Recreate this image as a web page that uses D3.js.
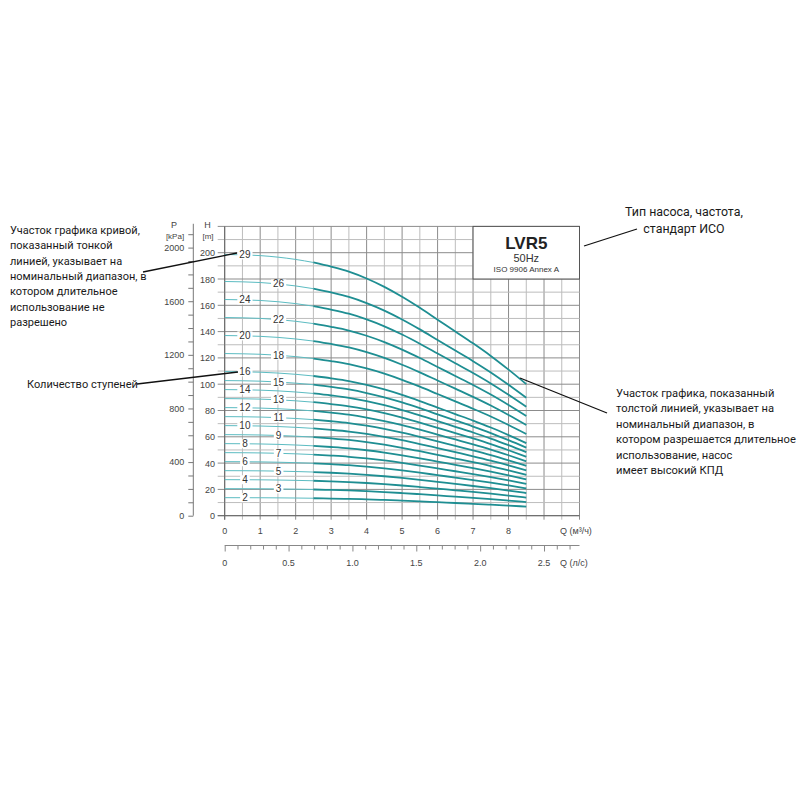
<!DOCTYPE html>
<html><head><meta charset="utf-8">
<script src="https://cdn.jsdelivr.net/npm/d3@7"></script>
<style>body{margin:0;background:#fff} svg{display:block}</style>
</head><body><svg id="c" width="800" height="800"></svg>
<script>
// ---------- data ----------
const flowM3h      = [0, 0.5, 1, 1.5, 2, 2.5, 3, 3.5, 4, 4.5, 5, 5.5, 6, 6.5, 7, 7.5, 8, 8.5];
const headPerStage = [6.85, 6.84, 6.82, 6.78, 6.72, 6.64, 6.53, 6.40, 6.22, 6.00, 5.74, 5.45, 5.14, 4.83, 4.52, 4.19, 3.83, 3.45];
const stages       = [2, 3, 4, 5, 6, 7, 8, 9, 10, 11, 12, 13, 14, 15, 16, 18, 20, 22, 24, 26, 29];
const labelsNearZero = [29, 24, 20, 16, 14, 12, 10, 8, 6, 4, 2];
const ratedStart   = 2.5;   // thin line below this flow, thick above
const qTicksM3h    = [0, 1, 2, 3, 4, 5, 6, 7, 8];
const qTicksLs     = ["0", "0.5", "1.0", "1.5", "2.0", "2.5"];
const hTicks       = [0, 20, 40, 60, 80, 100, 120, 140, 160, 180, 200];
const pTicks       = [0, 400, 800, 1200, 1600, 2000];
const titleLines   = ["LVR5", "50Hz", "ISO 9906 Annex A"];
const noteThin     = ["Участок графика кривой,", "показанный тонкой", "линией, указывает на", "номинальный диапазон, в", "котором длительное", "использование не", "разрешено"];
const noteStages   = ["Количество ступеней"];
const noteType     = ["Тип насоса, частота,", "стандарт ИСО"];
const noteThick    = ["Участок графика, показанный", "толстой линией, указывает на", "номинальный диапазон, в", "котором разрешается длительное", "использование, насос", "имеет высокий КПД"];

// ---------- scales ----------
const svg = d3.select("#c");
const x  = d3.scaleLinear().domain([0, 10]).range([224.7, 579.5]);
const xL = d3.scaleLinear().domain([0, 10 / 3.6]).range([224.7, 579.5]);
const y  = d3.scaleLinear().domain([0, 220]).range([515.7, 226.4]);
const yP = d3.scaleLinear().domain([0, 220 * 9.81]).range([515.7, 226.4]);
const AX = "Liberation Sans, Arial, sans-serif";
const TX = "Roboto, Open Sans, sans-serif";

// ---------- grid ----------
const g = svg.append("g");
g.selectAll(".vg").data(d3.range(0, 10.01, 0.5)).join("line")
  .attr("x1", d => x(d)).attr("x2", d => x(d))
  .attr("y1", y(220)).attr("y2", y(0) + 4)
  .attr("stroke", d => Number.isInteger(d) ? "#8c8c8c" : "#bdbdbd").attr("stroke-width", 1);
g.selectAll(".hg").data(d3.range(0, 220.1, 10)).join("line")
  .attr("x1", x(0) - 7).attr("x2", x(10))
  .attr("y1", d => y(d)).attr("y2", d => y(d))
  .attr("stroke", d => d % 20 === 0 ? "#8c8c8c" : "#bdbdbd").attr("stroke-width", 1);
g.append("line").attr("x1", x(0) - 7).attr("x2", x(10)).attr("y1", y(0)).attr("y2", y(0)).attr("stroke", "#666");
g.append("line").attr("x1", x(0)).attr("x2", x(0)).attr("y1", y(220)).attr("y2", y(0) + 4).attr("stroke", "#666");

// H axis labels
svg.append("g").selectAll("text").data(hTicks).join("text")
  .attr("x", 215).attr("y", d => y(d) + 3.5).attr("text-anchor", "end")
  .attr("font-family", AX).attr("font-size", 9).attr("fill", "#444").text(d => d);
svg.append("text").attr("x", 207.5).attr("y", 228).attr("text-anchor", "middle")
  .attr("font-family", AX).attr("font-size", 9).attr("fill", "#444").text("H");
svg.append("text").attr("x", 208).attr("y", 239).attr("text-anchor", "middle")
  .attr("font-family", AX).attr("font-size", 8).attr("fill", "#444").text("[m]");

// P axis
const pAxis = d3.axisLeft(yP).tickValues(d3.range(0, 2101, 100)).tickSize(5)
  .tickFormat(d => pTicks.includes(d) ? d : "");
const pg = svg.append("g").attr("transform", "translate(193.3,0)").call(pAxis);
pg.select(".domain").attr("d", `M0,${y(222)}V${y(0)}`).attr("stroke", "#777");
pg.selectAll(".tick line").attr("stroke", "#777");
pg.selectAll(".tick text").attr("font-family", AX).attr("font-size", 9).attr("fill", "#444").attr("x", -9);
svg.append("text").attr("x", 174).attr("y", 228).attr("text-anchor", "middle")
  .attr("font-family", AX).attr("font-size", 9).attr("fill", "#444").text("P");
svg.append("text").attr("x", 175).attr("y", 239).attr("text-anchor", "middle")
  .attr("font-family", AX).attr("font-size", 8).attr("fill", "#444").text("[kPa]");

// Q m3/h labels
svg.append("g").selectAll("text").data(qTicksM3h).join("text")
  .attr("x", d => x(d)).attr("y", 534).attr("text-anchor", "middle")
  .attr("font-family", AX).attr("font-size", 9).attr("fill", "#444").text(d => d);
svg.append("text").attr("x", 560).attr("y", 534)
  .attr("font-family", AX).attr("font-size", 9).attr("fill", "#444").text("Q (м³/ч)");

// Q l/s axis
const lAxis = d3.axisBottom(xL).tickValues(d3.range(0, 2.751, 0.1)).tickSize(4).tickFormat("");
const lg = svg.append("g").attr("transform", "translate(0,545.5)").call(lAxis);
lg.select(".domain").attr("d", `M${x(0)},0H${x(10)}`).attr("stroke", "#888");
lg.selectAll(".tick line").attr("stroke", "#888")
  .attr("y2", d => Math.abs(d * 2 - Math.round(d * 2)) < 1e-6 ? 6 : 4);
svg.append("g").selectAll("text").data(qTicksLs).join("text")
  .attr("x", d => xL(+d)).attr("y", 566).attr("text-anchor", "middle")
  .attr("font-family", AX).attr("font-size", 9).attr("fill", "#444").text(d => d);
svg.append("text").attr("x", 560).attr("y", 566)
  .attr("font-family", AX).attr("font-size", 9).attr("fill", "#444").text("Q (л/с)");

// ---------- curves ----------
const line = d3.line().x(d => x(d[0])).y(d => y(d[1])).curve(d3.curveMonotoneX);
const cg = svg.append("g");
stages.forEach(n => {
  const pts = flowM3h.map((q, i) => [q, headPerStage[i] * n]);
  cg.append("path").datum(pts.filter(p => p[0] <= ratedStart)).attr("d", line)
    .attr("fill", "none").attr("stroke", "#5cbcc2").attr("stroke-width", 1);
  cg.append("path").datum(pts.filter(p => p[0] >= ratedStart)).attr("d", line)
    .attr("fill", "none").attr("stroke", "#1e8e92").attr("stroke-width", 1.8);
});
// stage labels
const interp = d3.scaleLinear().domain(flowM3h).range(headPerStage);
const lab = svg.append("g");
stages.forEach(n => {
  const q = labelsNearZero.includes(n) ? 0.57 : 1.52;
  const px = x(q), py = y(interp(q) * n);
  const w = String(n).length * 5.6 + 4;
  lab.append("rect").attr("x", px - w / 2).attr("y", py - 4.5).attr("width", w).attr("height", 9).attr("fill", "#fff");
  lab.append("text").attr("x", px).attr("y", py + 3.5).attr("text-anchor", "middle")
    .attr("font-family", AX).attr("font-size", 10).attr("fill", "#333").text(n);
});

// ---------- title box ----------
svg.append("rect").attr("x", x(7)).attr("y", y(220)).attr("width", x(10) - x(7)).attr("height", y(180) - y(220))
  .attr("fill", "#fff").attr("stroke", "#555").attr("stroke-width", 1);
const bx = (x(7) + x(10)) / 2;
svg.append("text").attr("x", bx).attr("y", 248.5).attr("text-anchor", "middle")
  .attr("font-family", "Liberation Sans Narrow, Liberation Sans, Arial").attr("font-weight", "bold")
  .attr("font-size", 17).attr("fill", "#222").text(titleLines[0]);
svg.append("text").attr("x", bx).attr("y", 261.5).attr("text-anchor", "middle")
  .attr("font-family", AX).attr("font-size", 11).attr("fill", "#333").text(titleLines[1]);
svg.append("text").attr("x", bx).attr("y", 271.5).attr("text-anchor", "middle")
  .attr("font-family", AX).attr("font-size", 8).attr("fill", "#333").text(titleLines[2]);

// ---------- annotations ----------
// font size is fitted so that one line matches the width measured on the reference
function block(lines, x0, y0, lh, anchor, refIdx, refW) {
  const t = svg.append("g").selectAll("text").data(lines).join("text")
    .attr("x", x0).attr("y", (d, i) => y0 + i * lh).attr("text-anchor", anchor || "start")
    .attr("font-family", TX).attr("font-size", 12).attr("fill", "#1a1a1a").text(d => d);
  const w = t.nodes()[refIdx].getComputedTextLength();
  t.attr("font-size", 12 * refW / w);
}
block(noteThin, 10, 234, 15.3, "start", 0, 130);
block(noteStages, 27, 388, 15.3, "start", 0, 111);
block(noteType, 684, 216, 16.5, "middle", 0, 118);
block(noteThick, 616, 397, 15.4, "start", 3, 180);

const arrows = [
  [[143, 272], [237, 253]],
  [[137, 384], [238, 372]],
  [[584, 246], [637, 229]],
  [[520, 378], [607, 413]]
];
svg.append("g").selectAll("line").data(arrows).join("line")
  .attr("x1", d => d[0][0]).attr("y1", d => d[0][1]).attr("x2", d => d[1][0]).attr("y2", d => d[1][1])
  .attr("stroke", "#111").attr("stroke-width", 1.3);
</script>
</body></html>
